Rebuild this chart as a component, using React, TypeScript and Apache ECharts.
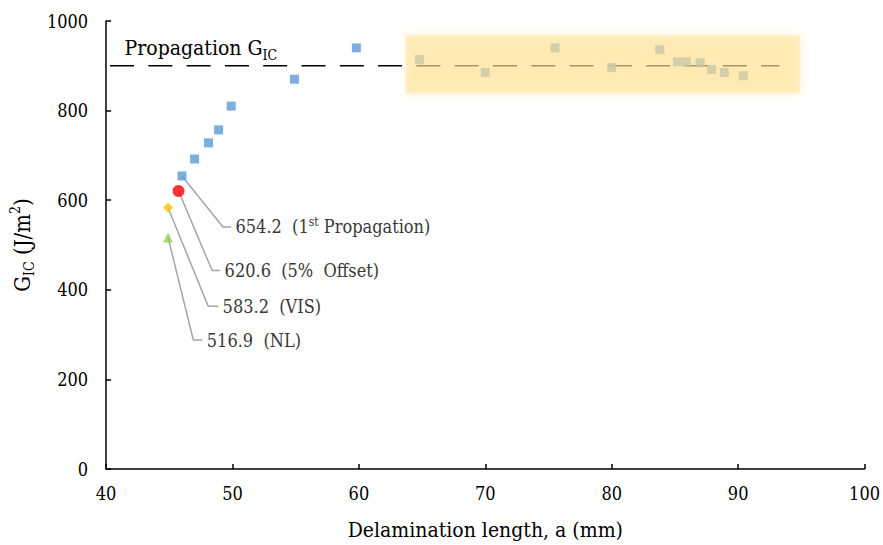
import React, { useEffect, useRef } from "react";
import * as echarts from "echarts";

// ---- Data ----
const propagationX = [46.0, 47.0, 48.1, 48.9, 49.9, 54.9, 59.8, 64.8, 70.0, 75.5, 80.0, 83.8, 85.2, 85.9, 87.0, 87.9, 88.9, 90.4];
const propagationY = [654.2, 692, 728, 757, 810, 870, 940, 914, 885, 940, 896, 936, 909, 909, 907, 892, 885, 878];
const offsetPoint = [45.73, 620.6];
const visPoint = [44.9, 583.2];
const nlPoint = [44.9, 516.9];
const plateauValue = 900;
const plateauX = [40.31, 93.25];
const highlightX = [63.7, 94.9];
const highlightY = [838, 968];
// leader lines: [start, elbow, end] for each annotation
const leader1st = [[46.0, 654.2], [49.25, 540.3], [49.88, 540.3]];
const leaderOffset = [[45.73, 620.6], [48.39, 442.9], [49.02, 442.9]];
const leaderVis = [[44.9, 583.2], [48.08, 363.1], [48.86, 363.1]];
const leaderNl = [[44.9, 516.9], [46.9, 287.9], [47.61, 287.9]];
const xTicks = { min: 40, max: 100, interval: 10 };
const yTicks = { min: 0, max: 1000, interval: 200 };

const FONT = "DejaVu Serif Condensed";

const annRich = {
  a: { fontSize: 18, lineHeight: 22, fontFamily: FONT, color: "#383838", verticalAlign: "middle" },
  s: { fontSize: 12, lineHeight: 12, fontFamily: FONT, color: "#383838", verticalAlign: "top" },
};

function leaderSeries(points: number[][], text: string) {
  return {
    type: "line",
    z: 1,
    silent: true,
    data: points.map((p, i) =>
      i === points.length - 1
        ? {
            value: p,
            symbol: "circle",
            symbolSize: 1,
            itemStyle: { color: "rgba(0,0,0,0)" },
            label: {
              show: true,
              position: "right",
              distance: 4,
              formatter: text,
              fontFamily: FONT,
              rich: annRich,
            },
          }
        : { value: p, symbol: "none" }
    ),
    lineStyle: { color: "#A5A5A5", width: 1.5 },
    itemStyle: { color: "rgba(0,0,0,0)" },
  };
}

export default function App() {
  const ref = useRef<HTMLDivElement>(null);
  useEffect(() => {
    if (!ref.current) return;
    const chart = echarts.init(ref.current, undefined, { renderer: "svg" });
    const option: any = {
      animation: false,
      backgroundColor: "#fff",
      grid: { left: 101, right: 17, top: 21, bottom: 72, containLabel: false },
      xAxis: {
        type: "value",
        min: xTicks.min,
        max: xTicks.max,
        interval: xTicks.interval,
        name: "Delamination length, a (mm)",
        nameLocation: "middle",
        nameGap: 50,
        nameTextStyle: { fontSize: 21, fontFamily: FONT, color: "#000" },
        axisLine: { show: true, lineStyle: { color: "#000", width: 1.5 } },
        axisTick: { show: true, inside: true, length: 5, lineStyle: { color: "#000", width: 1.5 } },
        axisLabel: { fontSize: 18, fontFamily: FONT, color: "#000", margin: 15, formatter: (v: number) => String(v) },
        splitLine: { show: false },
      },
      yAxis: {
        type: "value",
        min: yTicks.min,
        max: yTicks.max,
        interval: yTicks.interval,
        name: "{g|G}{s|IC}{g| (J/m}{p|2}{g|)}",
        nameLocation: "middle",
        nameRotate: 90,
        nameGap: 48,
        nameTextStyle: {
          fontFamily: FONT,
          color: "#000",
          rich: {
            g: { fontSize: 22, lineHeight: 28, fontFamily: FONT, color: "#000", verticalAlign: "middle" },
            s: { fontSize: 14, lineHeight: 14, fontFamily: FONT, color: "#000", verticalAlign: "bottom" },
            p: { fontSize: 14, lineHeight: 14, fontFamily: FONT, color: "#000", verticalAlign: "top" },
          },
        },
        axisLine: { show: true, lineStyle: { color: "#000", width: 1.5 } },
        axisTick: { show: true, inside: true, length: 5, lineStyle: { color: "#000", width: 1.5 } },
        axisLabel: { fontSize: 18, fontFamily: FONT, color: "#000", margin: 18, formatter: (v: number) => String(v) },
        splitLine: { show: false },
      },
      series: [
        leaderSeries(leader1st, "{a|654.2  (1}{s|st}{a| Propagation)}"),
        leaderSeries(leaderOffset, "{a|620.6  (5%  Offset)}"),
        leaderSeries(leaderVis, "{a|583.2  (VIS)}"),
        leaderSeries(leaderNl, "{a|516.9  (NL)}"),
        {
          type: "line",
          z: 2,
          silent: true,
          data: [
            {
              value: [plateauX[0], plateauValue],
              symbol: "circle",
              symbolSize: 1,
              label: {
                show: true,
                position: "right",
                distance: 5,
                offset: [9, -18],
                formatter: "{a|Propagation G}{b|IC}",
                fontFamily: FONT,
                rich: {
                  a: { fontSize: 21, lineHeight: 28, fontFamily: FONT, color: "#000", verticalAlign: "middle" },
                  b: { fontSize: 14, lineHeight: 14, fontFamily: FONT, color: "#000", verticalAlign: "bottom" },
                },
              },
            },
            { value: [plateauX[1], plateauValue], symbol: "none" },
          ],
          itemStyle: { color: "rgba(0,0,0,0)" },
          lineStyle: { color: "#000", width: 1.5, type: [24, 14.3] },
        },
        {
          type: "scatter",
          z: 3,
          symbol: "rect",
          symbolSize: 9,
          itemStyle: { color: "#5B9BD5" },
          data: propagationX.map((x, i) => [x, propagationY[i]]),
        },
        {
          type: "scatter",
          z: 3,
          symbol: "circle",
          symbolSize: 12,
          itemStyle: { color: "#FF0000" },
          data: [offsetPoint],
        },
        {
          type: "scatter",
          z: 3,
          symbol: "diamond",
          symbolSize: 10,
          itemStyle: { color: "#FFC000" },
          data: [visPoint],
        },
        {
          type: "scatter",
          z: 3,
          symbol: "triangle",
          symbolSize: 10,
          itemStyle: { color: "#92D050" },
          data: [nlPoint],
        },
        {
          type: "custom",
          z: 10,
          silent: true,
          encode: { x: [0, 2], y: [1, 3] },
          data: [[highlightX[0], highlightY[1], highlightX[1], highlightY[0]]],
          renderItem: (params: any, api: any) => {
            const p0 = api.coord([api.value(0), api.value(1)]);
            const p1 = api.coord([api.value(2), api.value(3)]);
            return {
              type: "rect",
              shape: { x: p0[0], y: p0[1], width: p1[0] - p0[0], height: p1[1] - p0[1] },
              style: {
                fill: "rgba(255,224,140,0.42)",
                shadowBlur: 10,
                shadowColor: "rgba(255,224,140,1)",
              },
            };
          },
        },
      ],
    };
    chart.setOption(option);
    return () => chart.dispose();
  }, []);
  return <div ref={ref} style={{ position: "absolute", left: 0, top: 0, width: 883, height: 545 }} />;
}
